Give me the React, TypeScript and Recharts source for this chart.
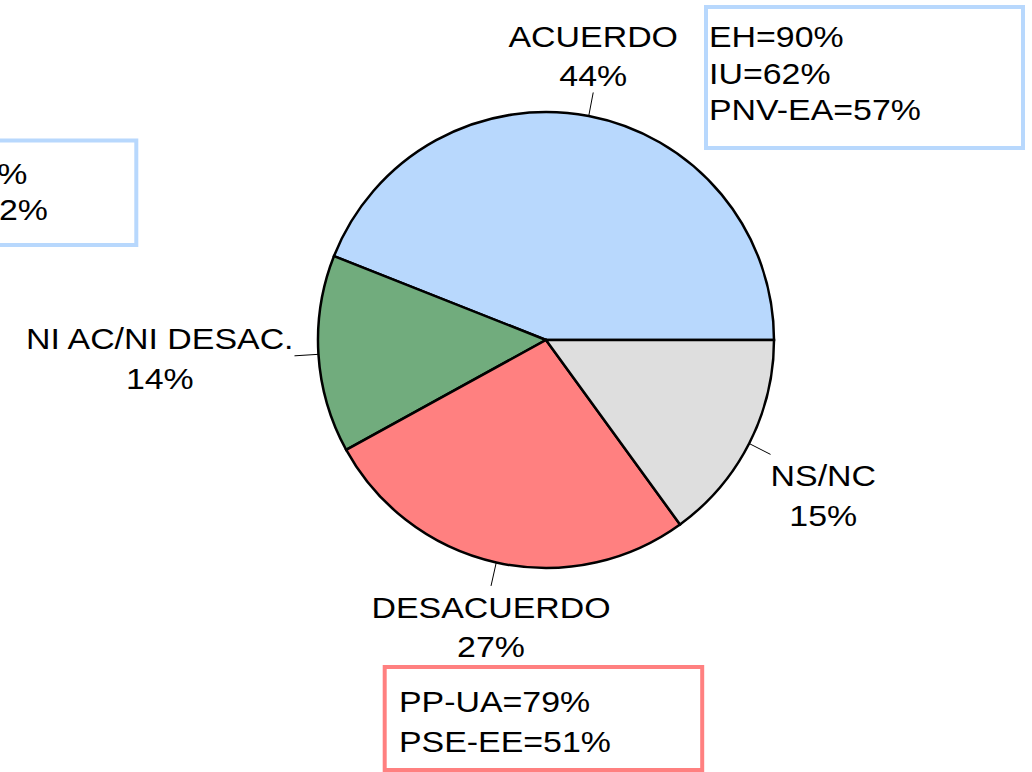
import React from 'react';
import { PieChart, Pie, Cell, Customized } from 'recharts';

const categories = ['ACUERDO', 'NI AC/NI DESAC.', 'DESACUERDO', 'NS/NC'];
const shares = [44, 14, 27, 15];
const sliceColors = ['#b8d8fd', '#71ac7d', '#ff8080', '#dedede'];

const acuerdoNotes = ['EH=90%', 'IU=62%', 'PNV-EA=57%'];
const desacuerdoNotes = ['PP-UA=79%', 'PSE-EE=51%'];
const leftNotes = ['%', '2%'];

const data = categories.map((name, i) => ({ name, value: shares[i] }));

const FONT = '"Liberation Sans", Arial, sans-serif';
const FS = 30;
const SX = 1.13;
const RADIAN = Math.PI / 180;

let ctx: CanvasRenderingContext2D | null = null;
function textWidth(s: string): number {
  if (typeof document !== 'undefined') {
    if (!ctx) ctx = document.createElement('canvas').getContext('2d');
    if (ctx) {
      ctx.font = `${FS}px ${FONT}`;
      return ctx.measureText(s).width * SX;
    }
  }
  return s.length * FS * 0.6 * SX;
}

const WideText = ({ x, y, anchor, children }: any) => (
  <text
    transform={`translate(${x},${y}) scale(${SX},1)`}
    x={0}
    y={0}
    textAnchor={anchor || 'start'}
    fontFamily={FONT}
    fontSize={FS}
    fill="#000"
  >
    {children}
  </text>
);

const renderLabel = (props: any) => {
  const { cx, cy, midAngle, outerRadius, name, value } = props;
  const cos = Math.cos(-midAngle * RADIAN);
  const sin = Math.sin(-midAngle * RADIAN);
  const x1 = cx + outerRadius * cos;
  const y1 = cy + outerRadius * sin;
  const x2 = cx + (outerRadius + 24) * cos;
  const y2 = cy + (outerRadius + 24) * sin;
  const lines = [String(name), `${value}%`];
  const w = Math.max(...lines.map(textWidth));
  const ascent = 32;
  const lh = 39.5;
  const h = ascent + lh + 6;
  const ox = Math.abs(cos) > 0.5 ? Math.sign(cos) * (w / 2) : 0;
  const oy = Math.abs(sin) > 0.3 ? Math.sign(sin) * (h / 2) : 0;
  const bx = x2 + ox;
  const by = y2 + oy;
  const top = by - h / 2;
  return (
    <g>
      <line x1={x1} y1={y1} x2={x2} y2={y2} stroke="#000" strokeWidth={1} />
      {lines.map((t, i) => (
        <WideText key={i} x={bx} y={top + ascent + i * lh} anchor="middle">
          {t}
        </WideText>
      ))}
    </g>
  );
};

const NoteBox = ({ x, y, w, h, color, lines, tx, ty, lh, anchor }: any) => (
  <g>
    <rect x={x} y={y} width={w} height={h} fill="#fff" stroke={color} strokeWidth={4} />
    {lines.map((t: string, i: number) => (
      <WideText key={i} x={Array.isArray(tx) ? tx[i] : tx} y={ty + i * lh} anchor={anchor}>
        {t}
      </WideText>
    ))}
  </g>
);

const Notes = () => (
  <g>
    <NoteBox x={-200} y={140.5} w={336.3} h={104.5} color="#b8d8fd" lines={leftNotes} tx={[27.5, 48]} ty={183.5} lh={36} anchor="end" />
    <NoteBox x={706} y={7} w={317} h={141} color="#b8d8fd" lines={acuerdoNotes} tx={709} ty={47} lh={36.5} />
    <NoteBox x={384.7} y={667} w={317.5} h={103} color="#ff8080" lines={desacuerdoNotes} tx={399} ty={711.7} lh={40} />
  </g>
);

export default function App() {
  return (
    <div style={{ position: 'absolute', left: 0, top: 0, width: 1032, height: 772, background: '#fff' }}>
      <PieChart width={1032} height={772} margin={{ top: 0, right: 0, bottom: 0, left: 0 }}>
        <Pie
          data={data}
          dataKey="value"
          nameKey="name"
          cx={546}
          cy={340}
          outerRadius={228}
          startAngle={0}
          endAngle={360}
          stroke="#000"
          strokeWidth={2.5}
          label={renderLabel}
          labelLine={false}
          isAnimationActive={false}
        >
          {data.map((d, i) => (
            <Cell key={d.name} fill={sliceColors[i]} />
          ))}
        </Pie>
        <Customized component={Notes} />
      </PieChart>
    </div>
  );
}
